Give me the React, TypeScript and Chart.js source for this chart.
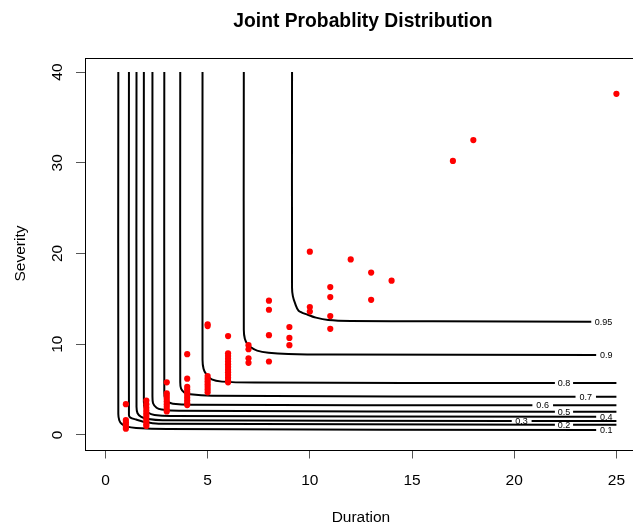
import React, { useEffect, useRef } from 'react';
import { Chart, registerables } from 'chart.js';

Chart.register(...registerables);

// Axis ticks and plot-region extents (data units)
const durationTicks = [0, 5, 10, 15, 20, 25];
const severityTicks = [0, 10, 20, 30, 40];
const durationRange = [-1, 26];
const severityRange = [-1.6, 41.6];
const durationVisibleMax = 25.616;

// Observed events: duration and severity
const obsDuration = [
  1, 1, 1, 1, 1, 1,
  2, 2, 2, 2, 2, 2, 2, 2, 2, 2,
  3, 3, 3, 3, 3, 3, 3, 3, 3,
  4, 4, 4, 4, 4, 4, 4, 4, 4, 4,
  5, 5, 5, 5, 5, 5, 5, 5, 5,
  6, 6, 6, 6, 6, 6, 6, 6, 6, 6, 6, 6, 6,
  7, 7, 7, 7,
  8, 8, 8, 8,
  9, 9, 9,
  10, 10, 10,
  11, 11, 11, 11,
  12,
  13, 13,
  14,
  17,
  18,
  25,
];
const obsSeverity = [
  3.4, 1.65, 1.4, 1.15, 0.9, 0.7,
  3.8, 3.4, 3.0, 2.7, 2.4, 2.1, 1.8, 1.5, 1.2, 1.0,
  5.8, 4.6, 4.3, 4.0, 3.7, 3.4, 3.1, 2.8, 2.6,
  8.9, 6.2, 5.3, 5.0, 4.7, 4.4, 4.1, 3.8, 3.5, 3.3,
  12.2, 12.0, 6.5, 6.2, 5.9, 5.6, 5.3, 5.0, 4.7,
  10.9, 9.0, 8.7, 8.4, 8.1, 7.8, 7.5, 7.2, 6.9, 6.6, 6.3, 6.0, 5.8,
  9.9, 9.45, 8.45, 7.95,
  14.8, 13.8, 11.0, 8.1,
  11.9, 10.7, 9.9,
  20.2, 14.1, 13.6,
  16.3, 15.2, 13.1, 11.7,
  19.35,
  17.9, 14.9,
  17.0,
  30.2,
  32.5,
  37.6,
];

// Joint probability contours: [duration, severity]; a null severity marks
// the break where the level label sits.
const contourLevels = ['0.1', '0.2', '0.3', '0.4', '0.5', '0.6', '0.7', '0.8', '0.9', '0.95'];

const contour010: [number, number | null][] = [
  [0.63, 40], [0.63, 2.3], [0.68, 1.6], [0.8, 1.2], [1.02, 0.95], [1.5, 0.78], [3, 0.66], [24.01, 0.54], [24.5, null],
];
const contour020: [number, number | null][] = [
  [1.15, 40], [1.15, 2.2], [1.22, 1.92], [1.5, 1.7], [1.85, 1.47], [2.6, 1.25], [21.99, 1.14], [22.44, null], [22.88, 1.14], [25, 1.14],
];
const contour030: [number, number | null][] = [
  [1.52, 40], [1.52, 3.1], [1.57, 2.4], [1.75, 2.0], [2.1, 1.75], [2.8, 1.62], [19.88, 1.54], [20.36, null], [20.85, 1.54], [25, 1.54],
];
const contour040: [number, number | null][] = [
  [1.88, 40], [1.88, 3.7], [1.93, 2.95], [2.1, 2.45], [2.4, 2.2], [3.2, 2.08], [24.01, 2.02], [24.5, null],
];
const contour050: [number, number | null][] = [
  [2.3, 40], [2.3, 4.3], [2.33, 3.5], [2.5, 3.0], [2.75, 2.8], [3.6, 2.66], [21.99, 2.57], [22.44, null], [22.88, 2.57], [25, 2.57],
];
const contour060: [number, number | null][] = [
  [2.88, 40], [2.88, 4.7], [2.92, 3.95], [3.05, 3.65], [3.3, 3.45], [4.2, 3.33], [20.89, 3.27], [21.39, null], [21.9, 3.27], [25, 3.27],
];
const contour070: [number, number | null][] = [
  [3.66, 40], [3.66, 5.8], [3.7, 5.1], [3.85, 4.7], [4.15, 4.48], [5.2, 4.32], [23.0, 4.22], [23.5, null], [24.0, 4.22], [25, 4.22],
];
const contour080: [number, number | null][] = [
  [4.75, 40], [4.75, 8.3], [4.8, 7.3], [4.93, 6.7], [5.2, 6.12], [5.7, 5.88], [7.3, 5.78], [21.99, 5.72], [22.44, null], [22.88, 5.72], [25, 5.72],
];
const contour090: [number, number | null][] = [
  [6.77, 40], [6.77, 11.6], [6.82, 10.6], [6.95, 10.0], [7.12, 9.65], [7.42, 9.3], [7.98, 9.07], [8.95, 8.93], [10.9, 8.86], [24.01, 8.82], [24.5, null],
];
const contour095: [number, number | null][] = [
  [9.13, 40], [9.13, 16.2], [9.17, 15.3], [9.28, 14.5], [9.45, 13.7], [9.9, 13.25], [10.3, 12.93], [10.9, 12.68], [12, 12.57], [16, 12.52], [23.77, 12.49], [24.37, null],
];

const contourLines = [
  contour010, contour020, contour030, contour040, contour050,
  contour060, contour070, contour080, contour090, contour095,
];

const FONT = '"Liberation Sans", Arial, Helvetica, sans-serif';

const decorPlugin = {
  id: 'decor',
  afterDatasetsDraw(chart: any) {
    const { ctx, chartArea } = chart;
    const xs = chart.scales.x;
    const ys = chart.scales.y;
    ctx.save();

    // plot box
    const bx0 = Math.round(xs.getPixelForValue(durationRange[0])) + 0.5;
    const bx1 = Math.round(xs.getPixelForValue(durationRange[1])) + 0.5;
    const by0 = Math.round(ys.getPixelForValue(severityRange[1])) + 0.5;
    const by1 = Math.round(ys.getPixelForValue(severityRange[0])) + 0.5;
    ctx.strokeStyle = '#000';
    ctx.lineWidth = 1;
    ctx.strokeRect(bx0, by0, bx1 - bx0, by1 - by0);

    // contour level labels
    ctx.fillStyle = '#000';
    ctx.font = `9px ${FONT}`;
    ctx.textAlign = 'center';
    ctx.textBaseline = 'middle';
    contourLines.forEach((pts, i) => {
      const k = pts.findIndex((p) => p[1] === null);
      if (k < 1) return;
      const lx = pts[k][0];
      const ly = pts[k - 1][1] as number;
      ctx.fillText(contourLevels[i], xs.getPixelForValue(lx), ys.getPixelForValue(ly) + 0.5);
    });

    // tick labels
    ctx.font = `15.5px ${FONT}`;
    ctx.textBaseline = 'alphabetic';
    ctx.textAlign = 'center';
    durationTicks.forEach((v) => {
      ctx.fillText(String(v), xs.getPixelForValue(v), 485);
    });
    severityTicks.forEach((v) => {
      ctx.save();
      ctx.translate(62, ys.getPixelForValue(v));
      ctx.rotate(-Math.PI / 2);
      ctx.fillText(String(v), 0, 0);
      ctx.restore();
    });

    // axis titles
    const midX = xs.getPixelForValue((durationRange[0] + durationRange[1]) / 2);
    const midY = (chartArea.top + chartArea.bottom) / 2;
    ctx.fillText('Duration', midX, 522);
    ctx.save();
    ctx.translate(25, midY);
    ctx.rotate(-Math.PI / 2);
    ctx.fillText('Severity', 0, 0);
    ctx.restore();

    // main title
    ctx.font = `bold 19.3px ${FONT}`;
    ctx.fillText('Joint Probablity Distribution', midX + 2, 27);

    ctx.restore();
  },
};

export default function App() {
  const canvasRef = useRef<HTMLCanvasElement | null>(null);

  useEffect(() => {
    const canvas = canvasRef.current;
    if (!canvas) return;

    const contourDatasets = contourLines.map((pts, i) => ({
      type: 'scatter' as const,
      label: contourLevels[i],
      data: pts.map(([x, y]) => ({ x, y })),
      showLine: true,
      borderColor: '#000',
      borderWidth: 2,
      pointRadius: 0,
      tension: 0.3,
      spanGaps: false,
      fill: false,
      order: 1,
    }));

    const chart = new Chart(canvas, {
      type: 'scatter',
      data: {
        datasets: [
          {
            label: 'Observed',
            data: obsDuration.map((d, i) => ({ x: d, y: obsSeverity[i] })),
            backgroundColor: '#ff0000',
            borderWidth: 0,
            pointRadius: 3.1,
            order: 0,
          },
          ...contourDatasets,
        ] as any,
      },
      options: {
        responsive: false,
        devicePixelRatio: 1,
        animation: false,
        events: [],
        layout: { padding: { top: 57.5, left: 0, right: 0, bottom: 0 } },
        plugins: {
          legend: { display: false },
          title: { display: false },
          tooltip: { enabled: false },
        },
        scales: {
          x: {
            type: 'linear',
            min: durationRange[0],
            max: durationVisibleMax,
            afterBuildTicks: (scale: any) => {
              scale.ticks = durationTicks.map((v) => ({ value: v }));
            },
            afterFit: (scale: any) => {
              scale.height = 76.5;
            },
            ticks: { display: false },
            grid: {
              drawOnChartArea: false,
              drawTicks: true,
              tickLength: 9,
              color: '#555',
              lineWidth: 1,
            },
            border: { display: false },
          },
          y: {
            type: 'linear',
            min: severityRange[0],
            max: severityRange[1],
            afterBuildTicks: (scale: any) => {
              scale.ticks = severityTicks.map((v) => ({ value: v }));
            },
            afterFit: (scale: any) => {
              scale.width = 85;
            },
            ticks: { display: false },
            grid: {
              drawOnChartArea: false,
              drawTicks: true,
              tickLength: 9,
              color: '#555',
              lineWidth: 1,
            },
            border: { display: false },
          },
        },
      },
      plugins: [decorPlugin],
    });

    return () => chart.destroy();
  }, []);

  return (
    <div
      style={{
        position: 'absolute',
        left: 0,
        top: 0,
        width: 633,
        height: 526,
        overflow: 'hidden',
        background: '#fff',
      }}
    >
      <canvas ref={canvasRef} width={633} height={526} style={{ display: 'block', width: 633, height: 526 }} />
    </div>
  );
}
